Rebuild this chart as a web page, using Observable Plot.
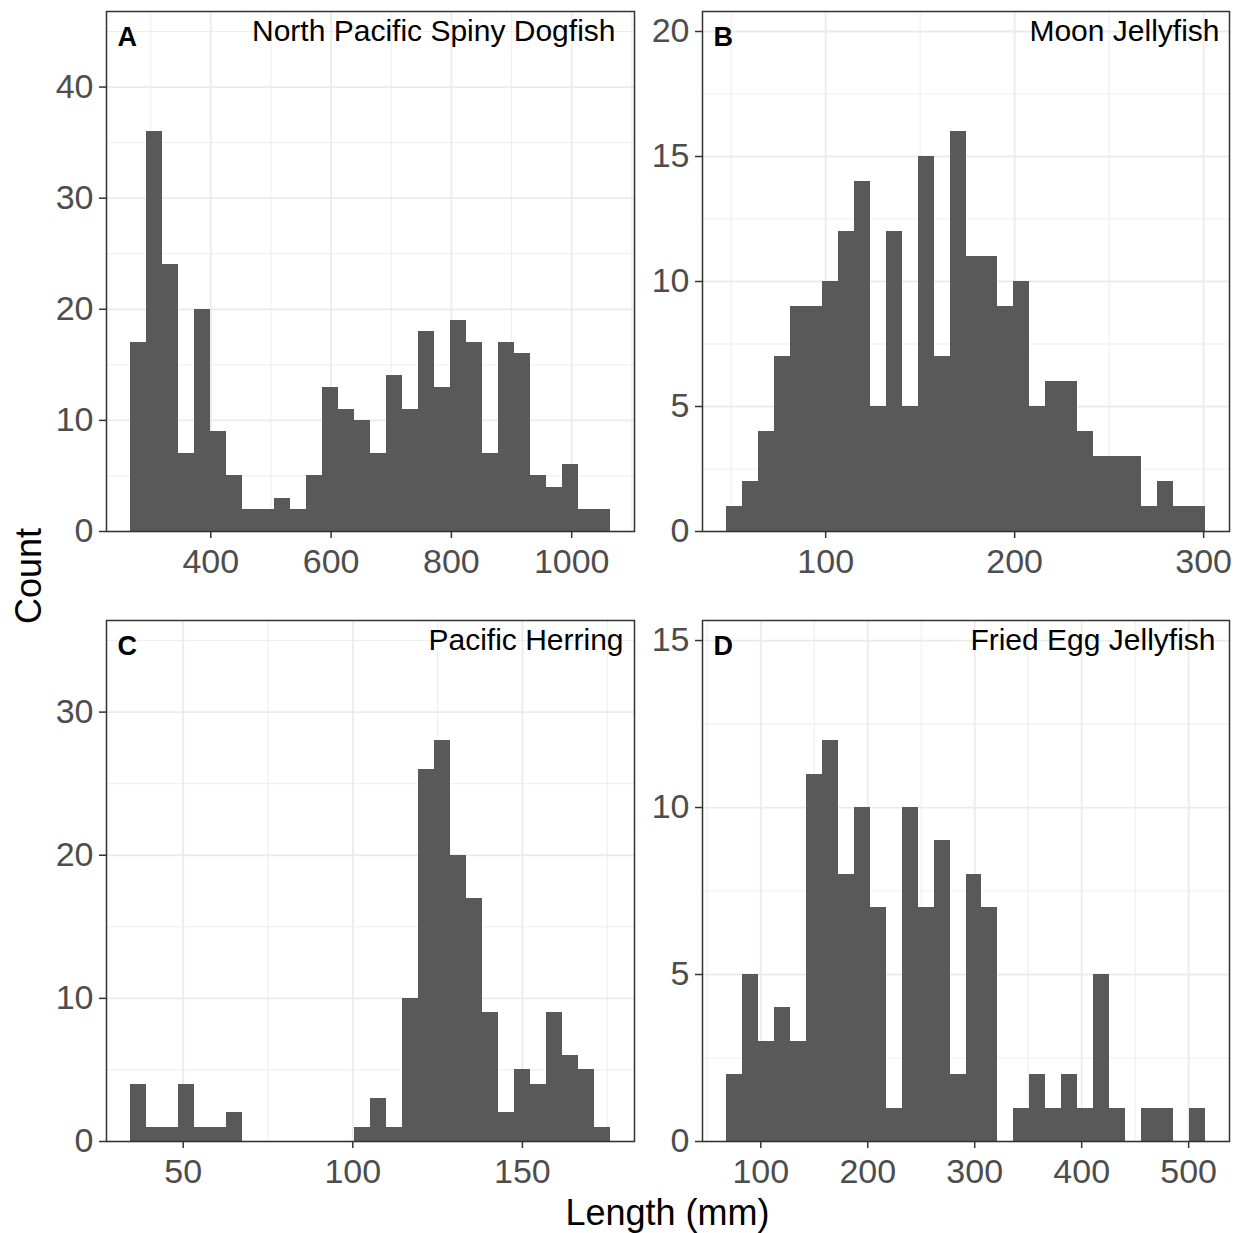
<!DOCTYPE html>
<html>
<head>
<meta charset="utf-8">
<script src="https://cdn.jsdelivr.net/npm/d3@7"></script>
<script src="https://cdn.jsdelivr.net/npm/@observablehq/plot@0.6"></script>
<style>
  html, body { margin: 0; padding: 0; background: #ffffff; }
  #fig { position: relative; width: 1239px; height: 1233px; background: #ffffff; overflow: hidden;
         font-family: "Liberation Sans", Arial, sans-serif; }
  .panel { position: absolute; }
  #titles { position: absolute; left: 0; top: 0; }
</style>
</head>
<body>
<div id="fig"></div>
<script>
// ---------- data ----------
const speciesNames = ["North Pacific Spiny Dogfish", "Moon Jellyfish", "Pacific Herring", "Fried Egg Jellyfish"];
const panelLetters = ["A", "B", "C", "D"];

// histogram counts (30 bins each)
const countsDogfish = [17, 36, 24, 7, 20, 9, 5, 2, 2, 3, 2, 5, 13, 11, 10, 7, 14, 11, 18, 13, 19, 17, 7, 17, 16, 5, 4, 6, 2, 2];
const countsMoon    = [1, 2, 4, 7, 9, 9, 10, 12, 14, 5, 12, 5, 15, 7, 16, 11, 11, 9, 10, 5, 6, 6, 4, 3, 3, 3, 1, 2, 1, 1];
const countsHerring = [4, 1, 1, 4, 1, 1, 2, 0, 0, 0, 0, 0, 0, 0, 1, 3, 1, 10, 26, 28, 20, 17, 9, 2, 5, 4, 9, 6, 5, 1];
const countsFriedEgg = [2, 5, 3, 4, 3, 11, 12, 8, 10, 7, 1, 10, 7, 9, 2, 8, 7, 0, 1, 2, 1, 2, 1, 5, 1, 0, 1, 1, 0, 1];

// bin edges (mm): first bin's left edge and the bin width
const binStarts = [266.5, 47.5, 34.46, 67.9];
const binWidths = [26.6, 8.45, 4.717, 14.93];

// tick values
const xTicksDogfish = [400, 600, 800, 1000];
const xTicksMoon = [100, 200, 300];
const xTicksHerring = [50, 100, 150];
const xTicksFriedEgg = [100, 200, 300, 400, 500];
const xMinorDogfish = [300, 500, 700, 900, 1100];
const xMinorMoon = [50, 150, 250];
const xMinorHerring = [75, 125, 175];
const xMinorFriedEgg = [50, 150, 250, 350, 450];

const yTicksDogfish = [0, 10, 20, 30, 40];
const yTicksMoon = [0, 5, 10, 15, 20];
const yTicksHerring = [0, 10, 20, 30];
const yTicksFriedEgg = [0, 5, 10, 15];
const yMinorDogfish = [5, 15, 25, 35, 45];
const yMinorMoon = [2.5, 7.5, 12.5, 17.5];
const yMinorHerring = [5, 15, 25, 35];
const yMinorFriedEgg = [2.5, 7.5, 12.5];

const xAxisTitle = "Length (mm)";
const yAxisTitle = "Count";

// ---------- layout ----------
const FONT = "'Liberation Sans', Arial, sans-serif";
const layout = [
  {left: 0,   top: 0,   w: 640, h: 590, mL: 106, mT: 11, mR: 6,  mB: 59, titleDx: -19},
  {left: 640, top: 0,   w: 599, h: 590, mL: 62,  mT: 11, mR: 10, mB: 59, titleDx: -10},
  {left: 0,   top: 590, w: 640, h: 610, mL: 106, mT: 30, mR: 6,  mB: 59, titleDx: -11},
  {left: 640, top: 590, w: 599, h: 610, mL: 62,  mT: 30, mR: 10, mB: 59, titleDx: -14}
];

const counts = [countsDogfish, countsMoon, countsHerring, countsFriedEgg];
const xTicks = [xTicksDogfish, xTicksMoon, xTicksHerring, xTicksFriedEgg];
const xMinor = [xMinorDogfish, xMinorMoon, xMinorHerring, xMinorFriedEgg];
const yTicks = [yTicksDogfish, yTicksMoon, yTicksHerring, yTicksFriedEgg];
const yMinor = [yMinorDogfish, yMinorMoon, yMinorHerring, yMinorFriedEgg];

const fig = document.getElementById("fig");

counts.forEach((cs, i) => {
  const L = layout[i];
  const bins = cs.map((c, k) => ({
    x1: binStarts[i] + k * binWidths[i],
    x2: binStarts[i] + (k + 1) * binWidths[i],
    count: c
  }));
  const lo = bins[0].x1, hi = bins[bins.length - 1].x2;
  const pad = 0.05 * (hi - lo);
  const yMax = 1.3 * d3.max(cs);

  const chart = Plot.plot({
    width: L.w,
    height: L.h,
    marginLeft: L.mL,
    marginTop: L.mT,
    marginRight: L.mR,
    marginBottom: L.mB,
    style: {fontFamily: FONT, background: "transparent", overflow: "visible"},
    x: {domain: [lo - pad, hi + pad]},
    y: {domain: [0, yMax]},
    marks: [
      Plot.gridX(xMinor[i], {stroke: "#EBEBEB", strokeOpacity: 1, strokeWidth: 0.9}),
      Plot.gridY(yMinor[i], {stroke: "#EBEBEB", strokeOpacity: 1, strokeWidth: 0.9}),
      Plot.gridX(xTicks[i], {stroke: "#EBEBEB", strokeOpacity: 1, strokeWidth: 1.8}),
      Plot.gridY(yTicks[i], {stroke: "#EBEBEB", strokeOpacity: 1, strokeWidth: 1.8}),
      Plot.rect(bins, {x1: "x1", x2: "x2", y1: () => 0, y2: "count", fill: "#595959", inset: 0, shapeRendering: "crispEdges"}),
      Plot.frame({stroke: "#333333", strokeWidth: 1.5}),
      Plot.axisX(xTicks[i], {
        tickSize: 7, tickPadding: 10, fontSize: 34, fill: "#4D4D4D", stroke: "#333333", strokeWidth: 1.5,
        label: null, tickFormat: d3.format("d")
      }),
      Plot.axisY(yTicks[i], {
        tickSize: 7, tickPadding: 6, fontSize: 34, fill: "#4D4D4D", stroke: "#333333", strokeWidth: 1.5,
        label: null, tickFormat: d3.format("d")
      }),
      Plot.text([panelLetters[i]], {
        text: d => d, frameAnchor: "top-left", textAnchor: "start", lineAnchor: "bottom",
        dx: 11, dy: 34, fontSize: 27, fontWeight: "bold", fill: "#000000"
      }),
      Plot.text([speciesNames[i]], {
        text: d => d, frameAnchor: "top-right", textAnchor: "end", lineAnchor: "bottom",
        dx: L.titleDx, dy: 29, fontSize: 30, fill: "#000000"
      })
    ]
  });
  const holder = document.createElement("div");
  holder.className = "panel";
  holder.style.left = L.left + "px";
  holder.style.top = L.top + "px";
  holder.appendChild(chart);
  fig.appendChild(holder);
});

// axis titles (shared)
const svgNS = "http://www.w3.org/2000/svg";
const t = document.createElementNS(svgNS, "svg");
t.setAttribute("id", "titles");
t.setAttribute("width", 1239);
t.setAttribute("height", 1233);
t.style.pointerEvents = "none";
const xt = document.createElementNS(svgNS, "text");
xt.setAttribute("x", 667.5);
xt.setAttribute("y", 1225);
xt.setAttribute("text-anchor", "middle");
xt.setAttribute("font-family", FONT);
xt.setAttribute("font-size", 36);
xt.setAttribute("fill", "#000");
xt.textContent = xAxisTitle;
const yt = document.createElementNS(svgNS, "text");
yt.setAttribute("transform", "translate(41,576) rotate(-90)");
yt.setAttribute("text-anchor", "middle");
yt.setAttribute("font-family", FONT);
yt.setAttribute("font-size", 36);
yt.setAttribute("fill", "#000");
yt.textContent = yAxisTitle;
t.appendChild(xt);
t.appendChild(yt);
fig.appendChild(t);
</script>
</body>
</html>
